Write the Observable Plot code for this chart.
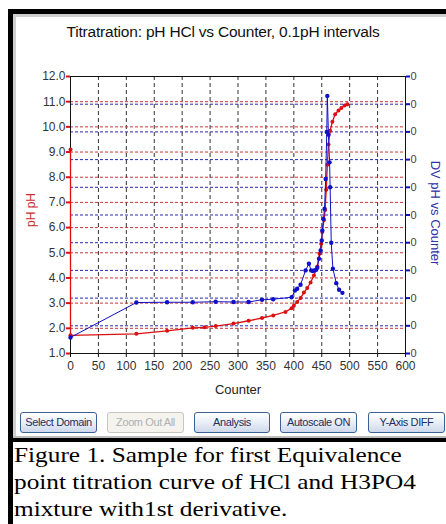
<!DOCTYPE html>
<html><head><meta charset="utf-8">
<script src="https://cdn.jsdelivr.net/npm/d3@7"></script>
<script src="https://cdn.jsdelivr.net/npm/@observablehq/plot@0.6"></script>
<style>
html,body{margin:0;padding:0;background:#fff;width:446px;height:524px;overflow:hidden;position:relative;font-family:"Liberation Sans",Arial,sans-serif;}
.abs{position:absolute;}
.btn{position:absolute;top:412px;height:21px;box-sizing:border-box;border:1px solid #3c5f95;border-radius:3px;background:linear-gradient(#ffffff,#e4ebf5 60%,#cdd8ea);font-size:11px;color:#1b2f60;text-align:center;line-height:19px;white-space:nowrap;overflow:hidden;letter-spacing:-0.4px;}
.btn.dis{border-color:#c8c6bd;color:#b0b0b0;background:#f4f3ee;}
</style></head>
<body>
<div class="abs" style="left:8px;top:9px;width:438px;height:5px;background:#000"></div>
<div class="abs" style="left:8px;top:9px;width:5px;height:515px;background:#000"></div>
<div class="abs" style="left:13px;top:14px;width:3px;height:424px;background:#cfcfcf"></div>
<div class="abs" style="left:13px;top:14px;width:433px;height:3px;background:#cfcfcf"></div>
<div class="abs" style="left:13px;top:436px;width:433px;height:2px;background:#bdbdbd"></div>
<div class="abs" style="left:8px;top:438px;width:438px;height:4px;background:#000"></div>
<div id="chart" class="abs" style="left:0;top:0"></div>
<div class="abs" style="left:0;width:446px;top:23px;text-align:center;font-size:15.5px;color:#111;letter-spacing:-0.2px">Titratration: pH HCl vs Counter, 0.1pH intervals</div>
<div class="btn" style="left:20px;width:77px">Select Domain</div>
<div class="btn dis" style="left:107px;width:77px">Zoom Out All</div>
<div class="btn" style="left:194px;width:76px">Analysis</div>
<div class="btn" style="left:280px;width:77px">Autoscale ON</div>
<div class="btn" style="left:368px;width:77px">Y-Axis DIFF</div>
<div class="abs" style="left:14px;top:441px;font-family:'Liberation Serif','Times New Roman',serif;font-size:22px;line-height:27px;color:#000;transform:scaleX(1.15);transform-origin:0 0;white-space:nowrap">Figure 1. Sample for first Equivalence<br>point titration curve of HCl and H3PO4<br>mixture with1st derivative.</div>
<script>
// Counter tick values
const xTicks = [0,50,100,150,200,250,300,350,400,450,500,550,600];
// Left axis (pH) ticks
const phTicks = [1,2,3,4,5,6,7,8,9,10,11,12];
// Right axis (DV pH vs Counter) ticks, in its own units
const dvTicks = [0,1,2,3,4,5,6,7,8,9,10];
const dvTickLabels = ["0","0","0","0","0","0","0","0","0","0","0"];

// pH curve (red)
const phCounter = [0,0,118,173,219,240,260,292,319,343,363,385,396,400,406,412,418,424,430,436,442,446,449,451,454,456,458,460,462,465,469,474,480,485,491,496];
const phValue   = [9.1,1.72,1.78,1.9,2.02,2.04,2.09,2.19,2.3,2.41,2.51,2.65,2.8,2.9,3.05,3.2,3.42,3.6,3.82,4.1,4.45,4.96,5.36,5.82,6.3,6.7,7.5,8.5,9.3,9.85,10.2,10.5,10.65,10.75,10.85,10.9];

// first derivative (blue), right-axis units
const dvCounter = [0,118,173,219,260,292,319,343,363,396,402,406,412,421,427,431,434,437,440,442,445,448,450,451,453,455,457,459,460,462,464,465,467,470,476,481,487];
const dvValue   = [0.58,1.84,1.85,1.85,1.87,1.86,1.86,1.94,1.96,2.03,2.27,2.34,2.48,3.0,3.24,3.0,2.98,3.0,3.02,3.1,3.42,3.72,4.08,4.44,4.86,5.23,6.3,8.0,9.3,7.9,6.9,6.0,4.0,3.06,2.54,2.3,2.19];

// right axis maps onto the left pH scale: 0 -> 1.0, 10 -> 12.0
const dvToPh = d3.scaleLinear().domain([0,10]).range([1,12]);

const red = phCounter.map((c,i)=>({x:c,y:phValue[i]}));
const blue = dvCounter.map((c,i)=>({x:c,y:dvToPh(dvValue[i])}));

const RED="#dc1010", BLUE="#1010c8";
const plot = Plot.plot({
  width:446, height:400,
  marginLeft:70, marginRight:41, marginTop:76, marginBottom:47,
  style:{fontFamily:"'Liberation Sans',Arial,sans-serif", fontSize:"12px", background:"transparent"},
  x:{domain:[0,600]},
  y:{domain:[1,12]},
  marks:[
    Plot.gridX(xTicks.slice(1,-1), {stroke:"#333", strokeOpacity:1, strokeDasharray:"4,3"}),
    Plot.gridY(phTicks.slice(1,-1), {stroke:"#c8383a", strokeOpacity:1, strokeDasharray:"3,2"}),
    Plot.gridY(dvTicks.slice(1,-1).map(dvToPh), {stroke:"#2828b0", strokeOpacity:1, strokeDasharray:"3,2"}),
    Plot.frame({stroke:"#111"}),
    Plot.axisY(phTicks, {anchor:"left", tickSize:4, tickPadding:1, strokeWidth:2, stroke:RED, fill:"#333", tickFormat:d=>d.toFixed(1), label:null}),
    Plot.axisY(dvTicks.map(dvToPh), {anchor:"right", tickSize:4, tickPadding:1, strokeWidth:2, stroke:BLUE, fill:"#444", fontSize:11, tickFormat:(d,i)=>dvTickLabels[i], label:null}),
    Plot.axisX(xTicks, {anchor:"bottom", tickSize:4, tickPadding:4, stroke:"#111", fill:"#333", label:null}),
    Plot.line(red, {x:"x", y:"y", stroke:RED, strokeWidth:1.3}),
    Plot.dot(red, {x:"x", y:"y", r:2, fill:RED}),
    Plot.line(blue, {x:"x", y:"y", stroke:BLUE, strokeWidth:1}),
    Plot.dot(blue, {x:"x", y:"y", r:2.2, fill:BLUE}),
    Plot.text(["Counter"], {frameAnchor:"bottom", dy:40, fill:"#222", fontSize:13}),
    Plot.text(["pH pH"], {frameAnchor:"left", textAnchor:"middle", dx:-39, dy:-5, rotate:-90, fill:"#c83030", fontSize:12}),
    Plot.text(["DV pH vs Counter"], {frameAnchor:"right", textAnchor:"middle", dx:30, dy:-2, rotate:90, fill:"#3030a8", fontSize:13})
  ]
});
document.getElementById("chart").appendChild(plot);
</script>
</body></html>
